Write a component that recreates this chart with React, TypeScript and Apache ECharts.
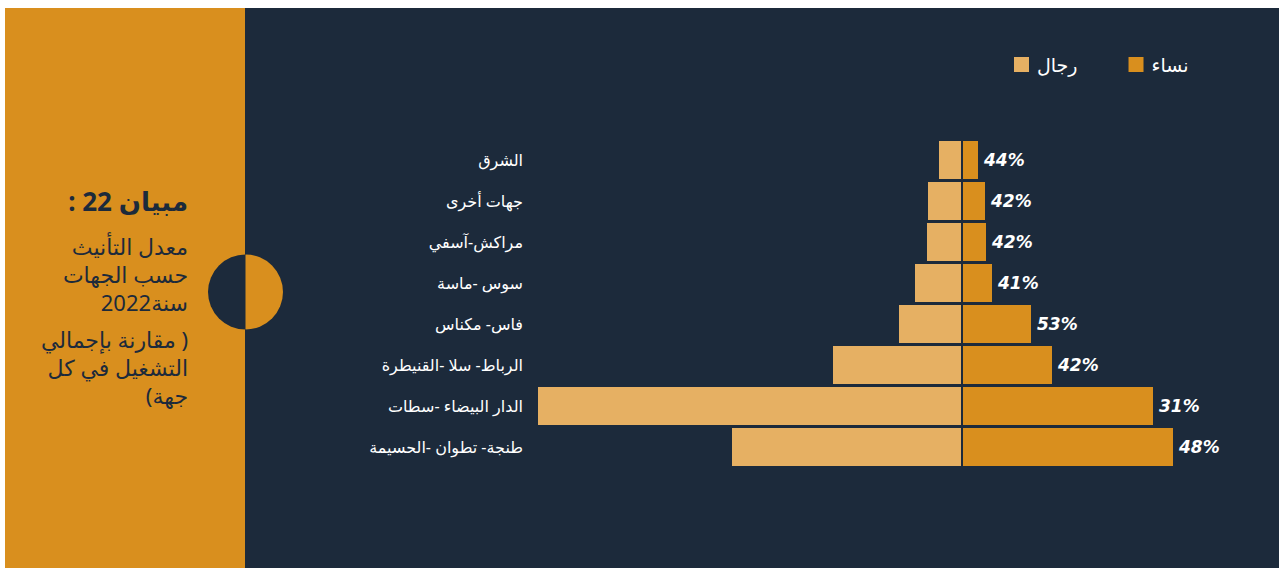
import React, { useEffect, useRef } from 'react';
import * as echarts from 'echarts';

const regions = [
  'الشرق',
  'جهات أخرى',
  'مراكش-آسفي',
  'سوس -ماسة',
  'فاس- مكناس',
  'الرباط- سلا -القنيطرة',
  'الدار البيضاء -سطات',
  'طنجة- تطوان -الحسيمة',
];
const men = [22, 33, 34, 46, 62, 128, 423, 229];
const women = [15, 22, 23, 29, 68, 89, 190, 210];
const feminisationRate = ['44%', '42%', '42%', '41%', '53%', '42%', '31%', '48%'];
const seriesNames = ['رجال', 'نساء'];
const titleText = 'مبيان 22 :';
const subtitleA = ['معدل التأنيث', 'حسب الجهات', 'سنة2022'];
const subtitleB = ['( مقارنة بإجمالي', 'التشغيل في كل', 'جهة)'];

const DARK = '#1c2a3b';
const ORANGE = '#d98f1e';
const LIGHT = '#e6b063';
const RLM = '\u200F';
const FONT = '"Noto Sans", "DejaVu Sans", sans-serif';
const NUM_FONT = '"DejaVu Sans", sans-serif';

export default function App() {
  const ref = useRef<HTMLDivElement>(null);
  useEffect(() => {
    if (!ref.current) return;
    const chart = echarts.init(ref.current, undefined, { renderer: 'svg' });
    const subY = [246, 274, 302, 338.5, 366.5, 394.5];
    const subLines = [...subtitleA, ...subtitleB];
    const graphics: any[] = [
      { type: 'rect', z: -10, silent: true, shape: { x: 5, y: 8, width: 240, height: 560 }, style: { fill: ORANGE } },
      { type: 'rect', z: -10, silent: true, shape: { x: 245, y: 8, width: 1034, height: 560 }, style: { fill: DARK } },
      { type: 'sector', z: -5, silent: true, shape: { cx: 245.5, cy: 292, r: 37.5, r0: 0, startAngle: Math.PI / 2, endAngle: (3 * Math.PI) / 2, clockwise: true }, style: { fill: DARK } },
      { type: 'sector', z: -5, silent: true, shape: { cx: 245.5, cy: 292, r: 37.5, r0: 0, startAngle: -Math.PI / 2, endAngle: Math.PI / 2, clockwise: true }, style: { fill: ORANGE } },
      {
        type: 'text', z: 5, x: 188, y: 201,
        style: { text: titleText + RLM, fill: DARK, font: `bold 26px ${FONT}`, textAlign: 'right', textVerticalAlign: 'middle' },
      },
      ...subLines.map((t, i) => ({
        type: 'text', z: 5, x: 188, y: subY[i],
        style: { text: RLM + t + RLM, fill: DARK, font: `22px ${FONT}`, lineHeight: 24, textAlign: 'right', textVerticalAlign: 'middle' },
      })),
    ];

    const gridTop = 139.5;
    const gridBottom = 100.5;
    chart.setOption({
      animation: false,
      backgroundColor: '#ffffff',
      graphic: { elements: graphics },
      legend: {
        data: [seriesNames[0], seriesNames[1]],
        left: 1014,
        top: 55,
        padding: 0,
        itemWidth: 15,
        itemHeight: 15,
        itemGap: 51,
        icon: 'rect',
        selectedMode: false,
        textStyle: { color: '#ffffff', fontSize: 19, fontFamily: FONT, padding: [0, 0, 0, 3] },
      },
      grid: [
        { left: 538, right: 1279 - 961, top: gridTop, bottom: gridBottom },
        { left: 963, right: 1279 - 1263, top: gridTop, bottom: gridBottom },
      ],
      xAxis: [
        { type: 'value', gridIndex: 0, min: 0, max: 423, inverse: true, show: false },
        { type: 'value', gridIndex: 1, min: 0, max: 300, show: false },
      ],
      yAxis: [
        {
          type: 'category', gridIndex: 0, data: regions, inverse: true, position: 'left',
          axisLine: { show: false }, axisTick: { show: false }, splitLine: { show: false },
          axisLabel: { color: '#ffffff', fontSize: 16, fontFamily: FONT, margin: 15 },
        },
        {
          type: 'category', gridIndex: 1, data: regions, inverse: true, show: false,
        },
      ],
      series: [
        {
          name: seriesNames[0], type: 'bar', xAxisIndex: 0, yAxisIndex: 0, data: men,
          barWidth: 38, itemStyle: { color: LIGHT }, silent: true,
        },
        {
          name: seriesNames[1], type: 'bar', xAxisIndex: 1, yAxisIndex: 1, data: women,
          barWidth: 38, itemStyle: { color: ORANGE }, silent: true,
          label: {
            show: true, position: 'right', distance: 6,
            formatter: (p: any) => feminisationRate[p.dataIndex],
            color: '#ffffff', fontSize: 17, fontWeight: 'bold', fontStyle: 'italic', fontFamily: NUM_FONT,
          },
        },
      ],
    });
    return () => chart.dispose();
  }, []);
  return (
    <div
      ref={ref}
      style={{ position: 'absolute', left: 0, top: 0, width: 1279, height: 568 }}
    />
  );
}
